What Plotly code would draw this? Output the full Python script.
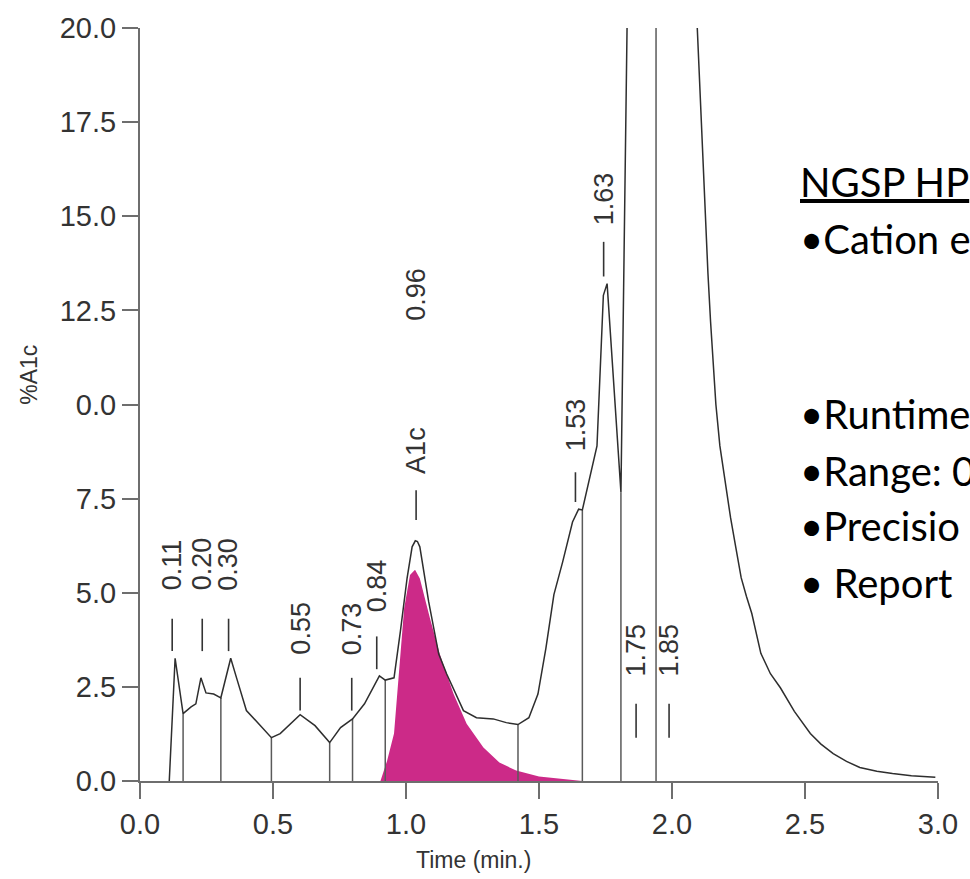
import numpy as np
import plotly.graph_objects as go

# ---------------------------------------------------------------------------
# Chromatogram signal (time in minutes, response on the %A1c scale).
# None marks where the main HbA0 peak leaves the top of the scale.
time_min = [0.110, 0.132, 0.162, 0.192, 0.210, 0.229, 0.248, 0.277, 0.304, 0.341,
            0.363, 0.400, 0.453, 0.494, 0.527, 0.602, 0.658, 0.713, 0.754, 0.799,
            0.844, 0.900, 0.922, 0.955, 0.979, 1.004, 1.023, 1.035, 1.043, 1.052,
            1.085, 1.123, 1.153, 1.216, 1.265, 1.328, 1.377, 1.421, 1.462, 1.496,
            1.526, 1.556, 1.589, 1.626, 1.649, 1.663, 1.718, 1.742, 1.756, 1.786,
            1.808, 1.831, None,
            2.095, 2.105, 2.115, 2.125, 2.135, 2.145, 2.155, 2.165, 2.180, 2.200,
            2.220, 2.240, 2.260, 2.280, 2.300, 2.334, 2.370, 2.408, 2.460, 2.520,
            2.560, 2.606, 2.656, 2.706, 2.770, 2.829, 2.900, 2.990]
signal = [0.00, 3.26, 1.79, 1.97, 2.05, 2.74, 2.34, 2.31, 2.21, 3.26,
          2.74, 1.87, 1.47, 1.15, 1.26, 1.76, 1.47, 1.02, 1.42, 1.65,
          2.05, 2.79, 2.68, 2.74, 3.98, 5.38, 6.22, 6.38, 6.36, 6.22,
          4.77, 3.37, 2.84, 1.87, 1.68, 1.65, 1.55, 1.50, 1.68, 2.31,
          3.53, 4.95, 5.82, 6.88, 7.22, 7.20, 8.90, 12.90, 13.21, 9.86,
          7.67, 20.00, None,
          20.00, 18.30, 16.60, 15.00, 13.50, 12.20, 11.00, 10.00, 8.90, 7.90,
          7.00, 6.20, 5.40, 4.90, 4.45, 3.39, 2.85, 2.47, 1.85, 1.26,
          0.98, 0.73, 0.52, 0.36, 0.26, 0.20, 0.14, 0.10]

# Integrated A1c peak (filled area)
a1c_time = [0.904, 0.929, 0.955, 0.974, 0.993, 1.015, 1.034, 1.052, 1.090, 1.127,
            1.179, 1.228, 1.291, 1.351, 1.414, 1.500, 1.600, 1.663]
a1c_signal = [0.00, 0.54, 1.26, 2.92, 4.58, 5.47, 5.61, 5.38, 4.32, 3.37,
              2.31, 1.52, 0.89, 0.49, 0.28, 0.12, 0.05, 0.00]

# Peak boundaries (drop lines from the baseline to the trace)
drop_time = [0.162, 0.304, 0.494, 0.713, 0.799, 0.922, 1.421, 1.663, 1.808, 1.940]

# Peak annotations: text, retention position, marker span, text base
peak_text = ["0.11", "0.20", "0.30", "0.55", "0.73", "0.84",
             "A1c", "0.96", "1.53", "1.63", "1.75", "1.85"]
peak_x = [0.121, 0.234, 0.333, 0.602, 0.796, 0.890,
          1.038, 1.040, 1.637, 1.743, 1.865, 1.989]
mark_lo = [3.45, 3.45, 3.45, 1.87, 1.87, 2.97,
           6.93, None, 7.41, 13.40, 1.15, 1.15]
mark_hi = [4.31, 4.31, 4.31, 2.74, 2.74, 3.84,
           7.72, None, 8.20, 14.32, 2.05, 2.05]
text_base = [5.03, 5.03, 5.03, 3.32, 3.32, 4.46,
             8.12, 12.20, 8.73, 14.74, 2.74, 2.74]

# Axis ticks (the 10.0 position carries the label printed on the chart)
x_ticks = [0.0, 0.5, 1.0, 1.5, 2.0, 2.5, 3.0]
y_ticks = [0.0, 2.5, 5.0, 7.5, 10.0, 12.5, 15.0, 17.5, 20.0]
y_tick_text = ["0.0", "2.5", "5.0", "7.5", "0.0", "12.5", "15.0", "17.5", "20.0"]

notes = ["<u>NGSP HP</u>", "•Cation e", "•Runtime", "•Range: 0", "•Precisio", "• Report"]
note_baseline_px = [194, 251, 427, 484, 540, 597]

# ---------------------------------------------------------------------------
W, H = 970, 879
ML, MR, MT, MB = 140, 24, 23, 98
PW, PH = W - ML - MR, H - MT - MB
Y_MAX = 20.0


def px_to_paper_x(px):
    return (px - ML) / PW


def px_to_paper_y(py):
    return (H - MB - py) / PH


AXIS_GREY = "#6e6e6e"
INK = "#2e2e2e"
TICK_FONT = dict(family="Liberation Sans, Arial, sans-serif", size=29, color="#333333")
LABEL_FONT = dict(family="Liberation Sans, Arial, sans-serif", size=27, color="#333333")
TITLE_FONT = dict(family="Liberation Sans, Arial, sans-serif", size=23, color="#333333")
NOTE_FONT = dict(family="Lato, Carlito, Calibri, sans-serif", size=40, color="#000000")

fig = go.Figure()

# Filled A1c peak
fig.add_trace(go.Scatter(
    x=a1c_time, y=a1c_signal, mode="lines", fill="tozeroy",
    fillcolor="#cc2a88", line=dict(color="#cc2a88", width=0),
    hoverinfo="skip"))

# Drop lines from baseline up to the trace
valid = [(t, s) for t, s in zip(time_min, signal) if t is not None]
seg_t = np.array([v[0] for v in valid])
seg_s = np.array([v[1] for v in valid])
dx, dy = [], []
for t in drop_time:
    if 1.831 < t < 2.095:
        top = Y_MAX  # trace is above the scale here
    else:
        top = float(np.interp(t, seg_t, seg_s))
    dx += [t, t, None]
    dy += [0.0, top, None]
fig.add_trace(go.Scatter(x=dx, y=dy, mode="lines",
                         line=dict(color="#5a5a5a", width=1.5), hoverinfo="skip"))

# Chromatogram trace
fig.add_trace(go.Scatter(x=time_min, y=signal, mode="lines", connectgaps=False,
                         line=dict(color=INK, width=1.5), hoverinfo="skip"))

# Short peak markers under each label
mx, my = [], []
for x, lo, hi in zip(peak_x, mark_lo, mark_hi):
    if lo is None:
        continue
    mx += [x, x, None]
    my += [lo, hi, None]
fig.add_trace(go.Scatter(x=mx, y=my, mode="lines",
                         line=dict(color="#333333", width=1.6), hoverinfo="skip"))

annotations = []
for txt, x, base in zip(peak_text, peak_x, text_base):
    annotations.append(dict(
        x=x, y=base, xref="x", yref="y", text=txt, showarrow=False,
        textangle=-90, xanchor="center", yanchor="bottom", font=LABEL_FONT,
        borderpad=0))

# Axis titles
annotations.append(dict(x=px_to_paper_x(477), y=px_to_paper_y(861), xref="paper", yref="paper",
                        text="Time (min.)", showarrow=False, xanchor="center",
                        yanchor="middle", font=TITLE_FONT))
annotations.append(dict(x=px_to_paper_x(28), y=px_to_paper_y(372), xref="paper", yref="paper",
                        text="%A1c", showarrow=False, textangle=-90, xanchor="center",
                        yanchor="middle", font=TITLE_FONT))

# Method notes at the right
for txt, base in zip(notes, note_baseline_px):
    annotations.append(dict(x=px_to_paper_x(805), y=px_to_paper_y(base - 0.387 * NOTE_FONT["size"]),
                            xref="paper", yref="paper", text=txt, showarrow=False,
                            xanchor="left", yanchor="middle", align="left", font=NOTE_FONT))

fig.update_layout(
    width=W, height=H, autosize=False,
    margin=dict(l=ML, r=MR, t=MT, b=MB, pad=0),
    paper_bgcolor="white", plot_bgcolor="white",
    showlegend=False, annotations=annotations,
)
axis_common = dict(showgrid=False, zeroline=False, showline=True, linecolor=AXIS_GREY,
                   linewidth=2, ticks="outside", ticklen=16, tickwidth=2,
                   tickcolor=AXIS_GREY, tickfont=TICK_FONT)
fig.update_xaxes(range=[0, 3], tickvals=x_ticks, ticktext=[f"{v:.1f}" for v in x_ticks],
                 **axis_common)
fig.update_yaxes(range=[0, Y_MAX], tickvals=y_ticks, ticktext=y_tick_text, **axis_common)

fig.write_html("out.html")
